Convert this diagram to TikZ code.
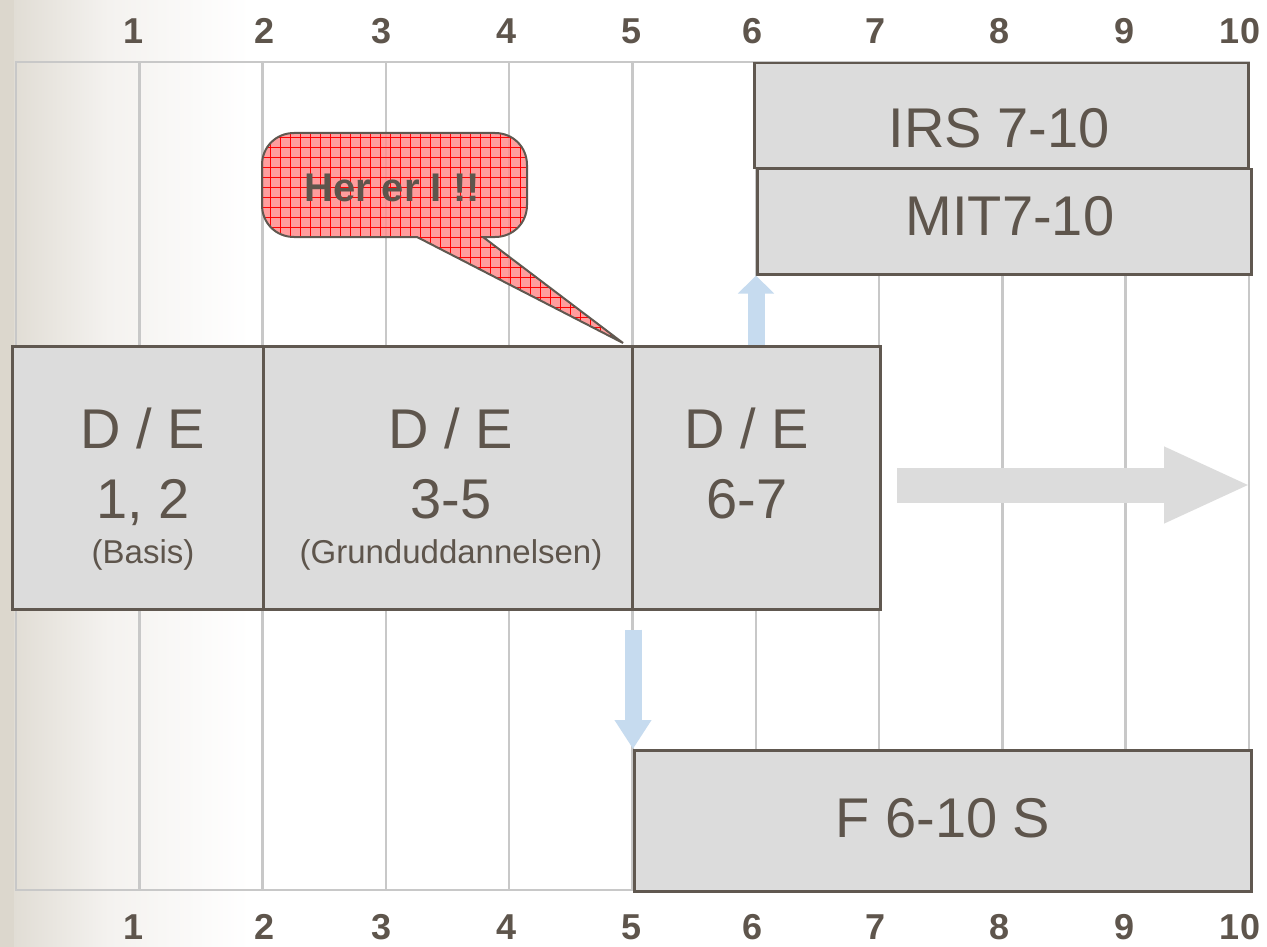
\documentclass[tikz,border=0pt]{standalone}
\usepackage{fontspec}
\setmainfont{Liberation Sans}
\usetikzlibrary{arrows.meta,calc,patterns.meta}
\definecolor{txt}{HTML}{5E554C}
\definecolor{bord}{HTML}{605850}
\definecolor{boxfill}{HTML}{DCDCDC}
\definecolor{gridc}{HTML}{C8C8C8}
\definecolor{strip}{HTML}{DCD7CD}
\definecolor{shadeL}{HTML}{E1DDD5}
\definecolor{shadeM}{HTML}{F4F2EF}
\definecolor{lblue}{HTML}{C6DBEF}
\definecolor{callred}{HTML}{FF8C8C}
\pgfdeclarehorizontalshading{leftfade}{100bp}{color(0bp)=(shadeL); color(25bp)=(shadeL); color(45bp)=(shadeM); color(75bp)=(white); color(100bp)=(white)}
\newcommand\myfs[1]{\fontsize{#1}{#1}\selectfont}
\tikzset{
  box/.style={draw=bord, fill=boxfill, line width=2.5pt, anchor=north west, inner sep=0pt},
  big/.style={text=txt, font=\myfs{56}, inner sep=0pt, anchor=base},
  small/.style={text=txt, font=\myfs{33}, inner sep=0pt, anchor=base},
  num/.style={text=txt, font=\bfseries\myfs{36}, inner sep=0pt, anchor=base},
  gridline/.style={draw=gridc, line width=2.5pt},
  bluearr/.style={draw=lblue, line width=17pt, -{Triangle[width=35pt,length=#1]}},
  grayarr/.style={draw=boxfill, line width=35pt, -{Triangle[width=70pt,length=87pt]}},
  callout/.style={draw=bord, line width=2pt, preaction={fill=callred, fill opacity=0.85},
     pattern={Hatch[angle=0,distance=10pt,line width=0.8pt]}, pattern color=red},
}
\begin{document}
\begin{tikzpicture}[x=1pt,y=-1pt]
\useasboundingbox (0,0) rectangle (1267,947);
% background
\fill[white] (0,0) rectangle (1267,947);
\shade[shading=leftfade] (14,0) rectangle (250,947);
\fill[strip] (0,0) rectangle (14,947);
% grid
\draw[gridline] (16,62) rectangle (1249,890);
\foreach \i in {1,...,9} {
  \draw[gridline] ({16+123.3*\i},62) -- ({16+123.3*\i},890);
}
% numbers
\foreach \n/\x in {1/134,2/265,3/382,4/507,5/632,6/753,7/876,8/1000,9/1124,10/1240} {
  \node[num] (t\n) at (\x,44) {\n};
  \node[num] (b\n) at (\x,939) {\n};
}
% boxes
\node[box, minimum width=251pt, minimum height=263pt] (de12) at (11,345) {};
\node[box, minimum width=369pt, minimum height=263pt] (de35) at (262,345) {};
\node[box, minimum width=248pt, minimum height=263pt] (de67) at (631,345) {};
\node[box, minimum width=494pt, minimum height=105pt] (irs) at (753,62) {};
\node[box, minimum width=494pt, minimum height=105pt] (mit) at (756,168) {};
\node[box, minimum width=617pt, minimum height=141pt] (f) at (633,749) {};
% box texts
\node[big] (de12a) at (143,448) {D / E};
\node[big] (de12b) at (143,518) {1, 2};
\node[small] (de12c) at (143,563) {(Basis)};
\node[big] (de35a) at (451,448) {D / E};
\node[big] (de35b) at (451,518) {3-5};
\node[small] (de35c) at (451,563) {(Grunduddannelsen)};
\node[big] (de67a) at (747,448) {D / E};
\node[big] (de67b) at (747,518) {6-7};
\node[big] (irst) at (999,148) {IRS 7-10};
\node[big] (mitt) at (1010,235) {MIT7-10};
\node[big] (ft) at (943,837) {F 6-10 S};
% arrows
\draw[bluearr=18pt] (de67.north -| mit.south west) -- (mit.south west);
\coordinate (dstart) at ($(f.north west |- de35.south)+(0,19)$);
\draw[bluearr=29pt] (dstart) -- (f.north west);
\coordinate (rs) at (897,485);
\coordinate (re) at (1251,485);
\draw[grayarr] (rs) -- (re);
% callout
\path[callout] (417,237) -- (294,237) .. controls (276,237) and (262,223) .. (262,205) -- (262,165)
  .. controls (262,147) and (276,133) .. (294,133) -- (495,133) .. controls (513,133) and (527,147) .. (527,165)
  -- (527,205) .. controls (527,223) and (513,237) .. (495,237) -- (483,237) -- (623,343) -- cycle;
\node[text=txt, font=\bfseries\myfs{40}, inner sep=0pt, anchor=base] (her) at (392,201) {Her er I !!};
\end{tikzpicture}
\end{document}
